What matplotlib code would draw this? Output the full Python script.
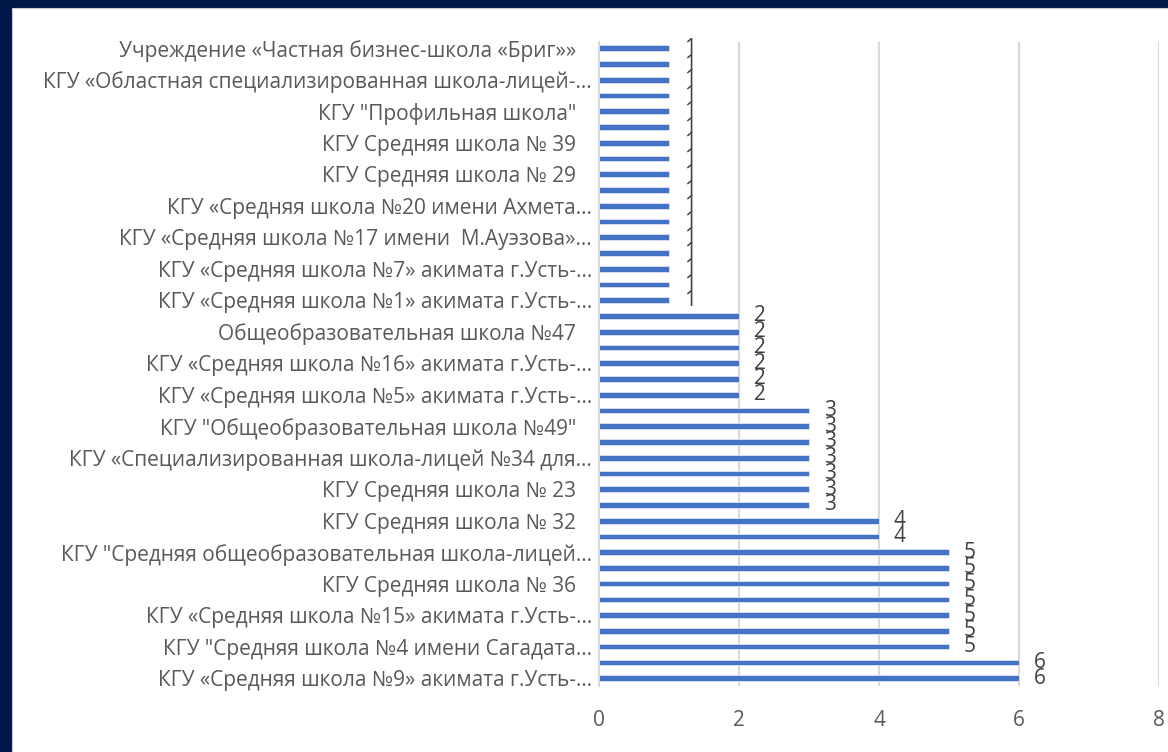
import matplotlib.pyplot as plt
import numpy as np

# bars listed bottom to top
values = [6, 6, 5, 5, 5, 5, 5, 5, 5, 4, 4, 3, 3, 3, 3, 3, 3, 3,
          2, 2, 2, 2, 2, 2,
          1, 1, 1, 1, 1, 1, 1, 1, 1, 1, 1, 1, 1, 1, 1, 1, 1]

# only every second category name is shown on the axis (bottom to top)
shown_labels = [
    "КГУ «Средняя школа №9» акимата г.Усть-...",
    "КГУ \"Средняя школа №4 имени Сагадата...",
    "КГУ «Средняя школа №15» акимата г.Усть-...",
    "КГУ Средняя школа № 36   ",
    "КГУ \"Средняя общеобразовательная школа-лицей...",
    "КГУ Средняя школа № 32   ",
    "КГУ Средняя школа № 23   ",
    "КГУ «Специализированная школа-лицей №34 для...",
    "КГУ \"Общеобразовательная школа №49\"   ",
    "КГУ «Средняя школа №5» акимата г.Усть-...",
    "КГУ «Средняя школа №16» акимата г.Усть-...",
    "Общеобразовательная школа №47   ",
    "КГУ «Средняя школа №1» акимата г.Усть-...",
    "КГУ «Средняя школа №7» акимата г.Усть-...",
    "КГУ «Средняя школа №17 имени  М.Ауэзова»...",
    "КГУ «Средняя школа №20 имени Ахмета...",
    "КГУ Средняя школа № 29   ",
    "КГУ Средняя школа № 39   ",
    "КГУ \"Профильная школа\"   ",
    "КГУ «Областная специализированная школа-лицей-...",
    "Учреждение «Частная бизнес-школа «Бриг»»   ",
]

plt.rcParams['font.family'] = ['Open Sans', 'DejaVu Sans']

fig = plt.figure(figsize=(11.68, 7.52), dpi=100)
fig.patch.set_facecolor('#001848')
# white panel, navy strip only on top and left
fig.patches.append(plt.Rectangle((12 / 1168, 0), 1, 1 - 8 / 752,
                                 transform=fig.transFigure,
                                 facecolor='white', edgecolor='#c8ccd6',
                                 lw=0.8, zorder=-5))

ax = fig.add_axes([599 / 1168, 1 - 686 / 752, 560 / 1168, 644 / 752])
ax.set_facecolor('none')

y = np.arange(len(values))
bars = ax.barh(y, values, height=0.36, color='#4472C4',
               edgecolor='#dbe4f5', linewidth=0.6, zorder=3)

for yi, v in zip(y, values):
    ax.annotate(str(v), (v, yi), xytext=(15, 0), textcoords='offset pixels',
                ha='left', va='center', fontsize=15, color='#404040',
                zorder=4)

ax.set_xlim(0, 8)
ax.set_ylim(-0.5, 40.4)
ax.set_xticks([0, 2, 4, 6, 8])
ax.set_yticks(y[::2])
ax.set_yticklabels(shown_labels)
ax.tick_params(axis='y', length=0, pad=5, labelsize=15, labelcolor='#595959')
ax.tick_params(axis='x', length=0, pad=17, labelsize=15, labelcolor='#595959')

ax.grid(axis='x', color='#d9d9d9', linewidth=1.5, zorder=0)
for s in ['top', 'right', 'bottom']:
    ax.spines[s].set_visible(False)
ax.spines['left'].set_color('#d9d9d9')
ax.spines['left'].set_linewidth(1.5)

plt.savefig('out.png', dpi=100, facecolor=fig.get_facecolor())
